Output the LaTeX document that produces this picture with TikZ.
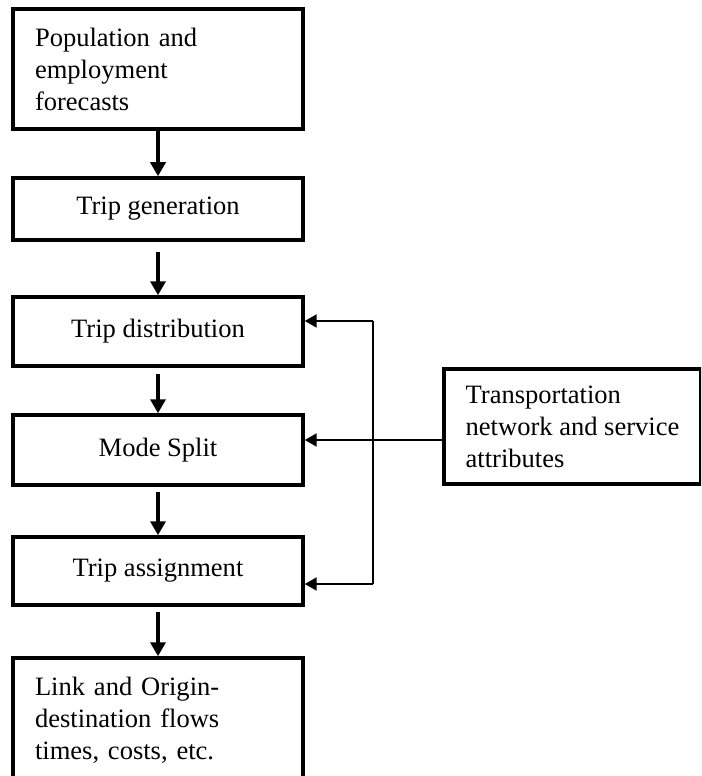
\documentclass[tikz,border=0pt]{standalone}
\usepackage{fontspec}
\setmainfont{Liberation Serif}
\usepackage{tikz}
\usetikzlibrary{arrows.meta, positioning, calc}

\begin{document}
\begin{tikzpicture}[x=0.02cm, y=-0.02cm,
    box/.style={draw, line width=2pt, minimum width=5.8cm, inner sep=0pt,
      font=\fontsize{15.1}{18.2}\selectfont},
    leftbox/.style={box, text width=4.92cm, align=left, inner xsep=0.44cm},
    flow/.style={line width=2pt, -{Triangle[length=0.28cm, width=0.3cm]}},
    feed/.style={line width=1.2pt, -{Triangle[length=0.24cm, width=0.26cm]}}]
    \clip (0,0) rectangle (701,776);

    % Main chain
    \node[leftbox, minimum height=2.4cm] (pop) at (158,69)
      {Population and\\employment\\forecasts};
    \node[box, minimum height=1.24cm] (gen) at (158,209) {Trip generation};
    \node[box, minimum height=1.38cm] (dist) at (158,331.5) {Trip distribution};
    \node[box, minimum height=1.4cm] (mode) at (158,450) {Mode Split};
    \node[box, minimum height=1.36cm] (assign) at (158,571) {Trip assignment};
    \node[leftbox, minimum height=2.48cm] (flows) at (158,720)
      {Link and Origin-\\destination flows\\times, costs, etc.};

    % Network box
    \node[box, minimum width=5.14cm, minimum height=2.3cm, align=left]
      (net) at (572.5,426.5)
      {Transportation\\network and service\\attributes};

    % Arrows down
    \draw[flow] (pop) -- (gen);
    \draw[flow] ($(gen.south)+(0,10)$) -- (dist);
    \draw[flow] ($(dist.south)+(0,6)$) -- (mode);
    \draw[flow] ($(mode.south)+(0,5)$) -- (assign);
    \draw[flow] ($(assign.south)+(0,5)$) -- (flows);

    % Feedback
    \coordinate (bustop) at (373,321);
    \coordinate (busbot) at (373,584);
    \coordinate (tap) at (net.west |- 0,440);
    \draw[line width=1.4pt] (bustop) -- (busbot);
    \draw[feed] (bustop) -- (bustop -| dist.east);
    \draw[feed] (tap) -- (tap -| mode.east);
    \draw[feed] (busbot) -- (busbot -| assign.east);
\end{tikzpicture}
\end{document}
